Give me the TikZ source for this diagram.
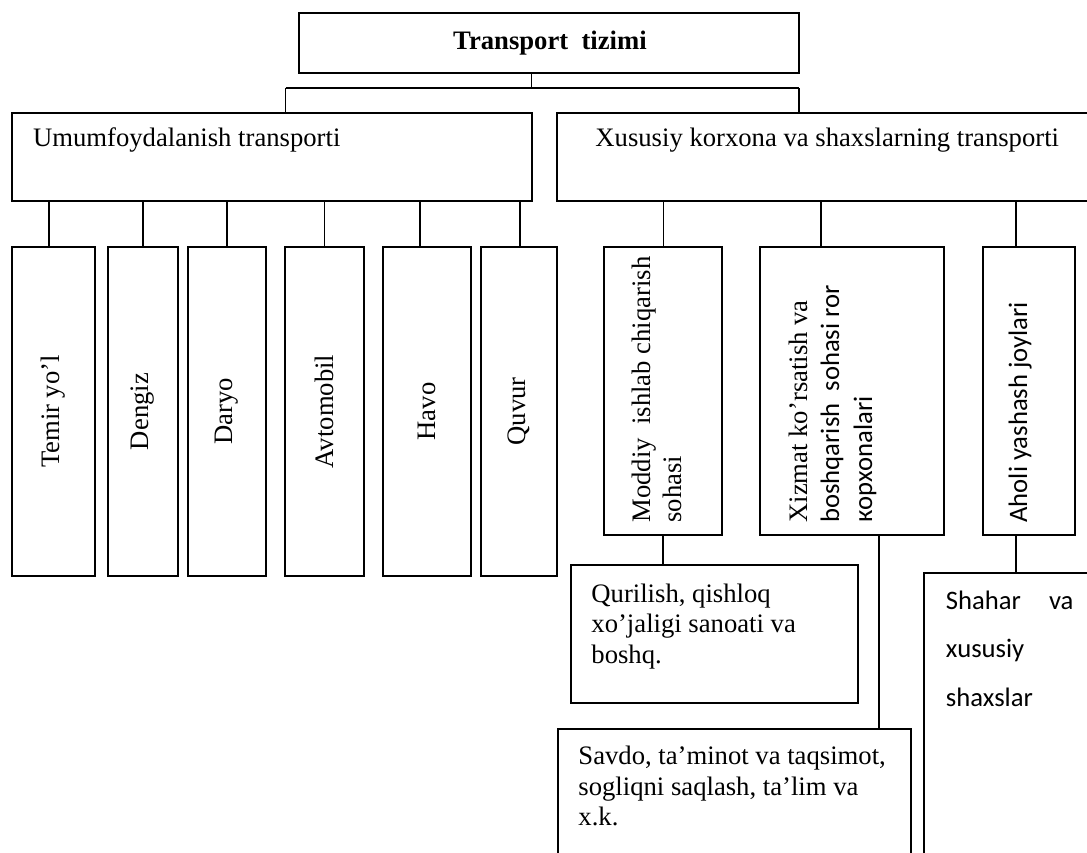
\documentclass[tikz,border=0pt]{standalone}
\usepackage{fontspec}
\setmainfont{Liberation Serif}
\newfontfamily\calfont{Carlito}
\usetikzlibrary{fit}
\begin{document}
\begin{tikzpicture}[x=0.45pt,y=-0.45pt,
  box/.style={draw, line width=0.9pt, inner sep=0pt, fit={#1}},
  link/.style={line width=0.7pt},
  txt/.style={inner sep=0pt, font=\fontsize{12}{14.5}\selectfont},
  stxt/.style={inner sep=0pt, font=\fontsize{12}{14.5}\selectfont\calfont},
  ltxt/.style={txt, anchor=base west},
  vtxt/.style={txt, rotate=90},
  vltxt/.style={txt, rotate=90, anchor=base west},
  vstxt/.style={stxt, rotate=90, anchor=base west}]
\useasboundingbox (0,0) rectangle (1087,852);
\clip (0,0) rectangle (1087,852);

% boxes
\node[box={(299,12.7) (799,73)}] (top) {};
\node[box={(12,113) (531.5,201)}] (umum) {};
\node[box={(557,113) (1100,201)}] (xus) {};
\node[box={(12,247) (95,576)}] (temir) {};
\node[box={(108,247) (178,576)}] (dengiz) {};
\node[box={(188,247) (266,576)}] (daryo) {};
\node[box={(285,247) (364,576)}] (avto) {};
\node[box={(383,247) (471,576)}] (havo) {};
\node[box={(481,247) (557,576)}] (quvur) {};
\node[box={(604,247) (722,535)}] (moddiy) {};
\node[box={(760,247) (944,535)}] (xizmat) {};
\node[box={(983,247) (1075,535)}] (aholi) {};
\node[box={(570.5,565) (858,703)}] (qur) {};
\node[box={(557.5,729) (910.6,880)}] (savdo) {};
\node[box={(924,573) (1100,880)}] (shahar) {};

% texts
\node[txt, anchor=base, font=\fontsize{12}{14.5}\selectfont\bfseries] (ttop) at (550,49.5) {Transport\ \ tizimi};
\node[ltxt] (tumum) at (32.6,146) {Umumfoydalanish transporti};
\node[ltxt] (txus) at (595,146) {Xususiy korxona va shaxslarning transporti};
\node[vtxt] (ttemir) at (temir.center) {Temir yo’l};
\node[vtxt] (tdengiz) at (dengiz.center) {Dengiz};
\node[vtxt] (tdaryo) at (daryo.center) {Daryo};
\node[vtxt] (tavto) at (avto.center) {Avtomobil};
\node[vtxt] (thavo) at (havo.center) {Havo};
\node[vtxt] (tquvur) at (quvur.center) {Quvur};
\node[vltxt] (tmod1) at (650,523) {Moddiy\ \ ishlab chiqarish};
\node[vltxt] (tmod2) at (681.7,523) {sohasi};
\node[vltxt] (txiz1) at (807,523) {Xizmat ko’rsatish va};
\node[vstxt] (txiz2) at (839,523) {boshqarish\ \ sohasi ror};
\node[vstxt] (txiz3) at (872,523) {корхonalari};
\node[vstxt] (tahol) at (1027,523) {Aholi yashash joylari};
\node[ltxt] (tqur1) at (591,602) {Qurilish, qishloq};
\node[ltxt] (tqur2) at (591,632.5) {xo’jaligi sanoati va};
\node[ltxt] (tqur3) at (591,663) {boshq.};
\node[ltxt] (tsav1) at (578,764) {Savdo, ta’minot va taqsimot,};
\node[ltxt] (tsav2) at (578,795) {sogliqni saqlash, ta’lim va};
\node[ltxt] (tsav3) at (578,825.5) {x.k.};
\node[stxt, anchor=base west] (tsha1) at (945.5,609) {\hbox to 57.4pt{Shahar\hfill va}};
\node[stxt, anchor=base west] (tsha2) at (945.5,657.5) {xususiy};
\node[stxt, anchor=base west] (tsha3) at (945.5,706) {shaxslar};

% connector points
\coordinate (j0) at (531.5,88);
\coordinate (j1) at (285.5,88);
\coordinate (j2) at (799,88);
\coordinate (c1) at (49,0);
\coordinate (c2) at (143,0);
\coordinate (c3) at (227,0);
\coordinate (c4) at (324.5,0);
\coordinate (c5) at (420,0);
\coordinate (c6) at (520,0);
\coordinate (d1) at (663.5,0);
\coordinate (d2) at (821,0);
\coordinate (d3) at (1016,0);
\coordinate (e1) at (663,0);
\coordinate (e2) at (879,0);

% connectors
\draw[link] (top.south -| j0) -- (j0);
\draw[link] (j1) -- (j2);
\draw[link] (j1) -- (j1 |- umum.north);
\draw[link] (j2) -- (j2 |- xus.north);
\draw[link] (umum.south -| c1) -- (temir.north -| c1);
\draw[link] (umum.south -| c2) -- (dengiz.north -| c2);
\draw[link] (umum.south -| c3) -- (daryo.north -| c3);
\draw[link] (umum.south -| c4) -- (avto.north -| c4);
\draw[link] (umum.south -| c5) -- (havo.north -| c5);
\draw[link] (umum.south -| c6) -- (quvur.north -| c6);
\draw[link] (xus.south -| d1) -- (moddiy.north -| d1);
\draw[link] (xus.south -| d2) -- (xizmat.north -| d2);
\draw[link] (xus.south -| d3) -- (aholi.north -| d3);
\draw[link] (moddiy.south -| e1) -- (qur.north -| e1);
\draw[link] (xizmat.south -| e2) -- (savdo.north -| e2);
\draw[link] (aholi.south -| d3) -- (shahar.north -| d3);
\end{tikzpicture}
\end{document}
